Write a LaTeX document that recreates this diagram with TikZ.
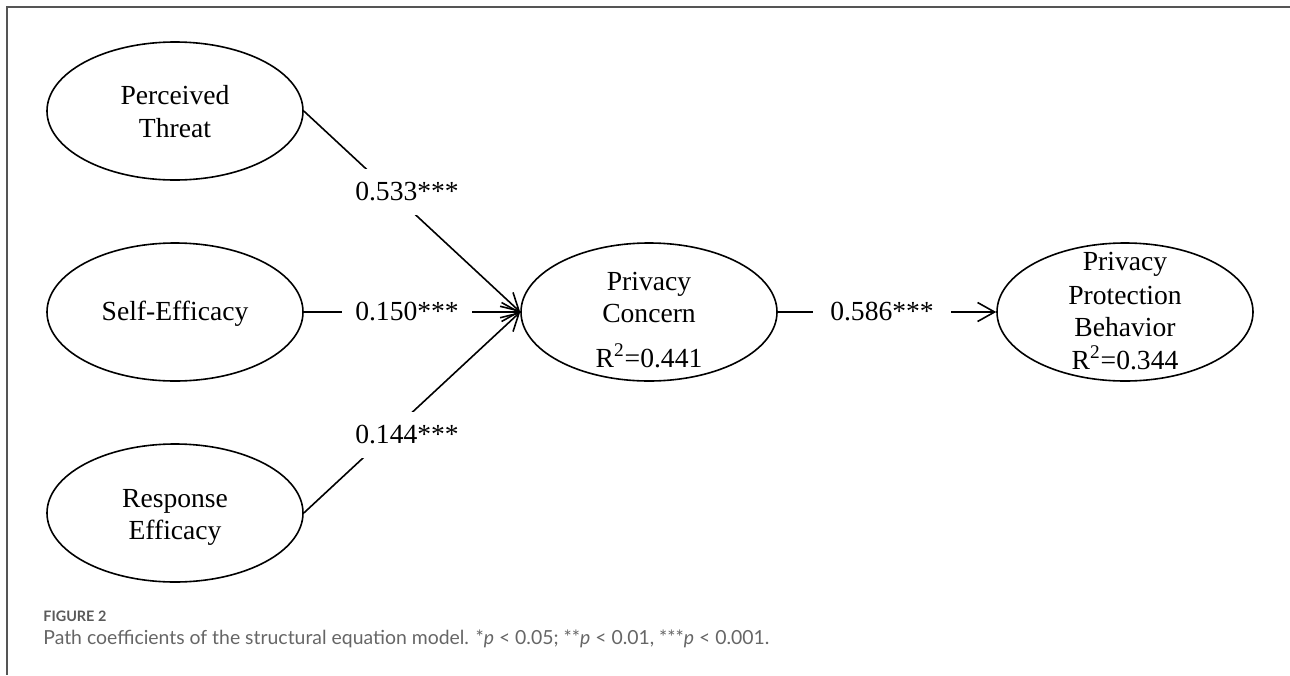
\documentclass[tikz,border=0pt]{standalone}
\usepackage{fontspec}
\setmainfont{Liberation Serif}
\newfontfamily\capfont{Lato}
\usetikzlibrary{arrows.meta,shapes.geometric}
\definecolor{framegrey}{HTML}{555555}
\definecolor{figgrey}{HTML}{5A5A5A}
\definecolor{capgrey}{HTML}{666666}
\begin{document}
\begin{tikzpicture}[x=0.5pt,y=-0.5pt,
 ell/.style={draw,ellipse,line width=0.8pt,minimum width=128pt,minimum height=69pt,inner sep=0pt},
 txt/.style={font=\fontsize{13.8pt}{16.5pt}\selectfont,anchor=base,inner sep=0pt},
 coef/.style={font=\fontsize{13.8pt}{16.5pt}\selectfont,fill=white,inner xsep=6.5pt,inner ysep=6.8pt},
 conn/.style={line width=0.8pt,-{Straight Barb[length=8.5pt,width=9.5pt]}},
 frameline/.style={draw=framegrey,line width=1pt}]
\useasboundingbox (0,0) rectangle (1290,675);
\draw[frameline] (1290,7) -- (7,7) -- (7,675);

% ellipses
\node[ell] (pt) at (175,111) {};
\node[ell] (se) at (175,312) {};
\node[ell] (re) at (175,513) {};
\node[ell] (pc) at (649,312) {};
\node[ell] (ppb) at (1125,312) {};

% texts
\node[txt] (pt1) at (175,104) {Perceived};
\node[txt] (pt2) at (175,137) {Threat};
\node[txt] (se1) at (175,320) {Self-Efficacy};
\node[txt] (re1) at (175,507) {Response};
\node[txt] (re2) at (175,539) {Efficacy};
\node[txt] (pc1) at (649,290) {Privacy};
\node[txt] (pc2) at (649,322) {Concern};
\node[txt] (pc3) at (649,367) {R\textsuperscript{2}=0.441};
\node[txt] (ppb1) at (1125,270) {Privacy};
\node[txt] (ppb2) at (1125,304) {Protection};
\node[txt] (ppb3) at (1125,336) {Behavior};
\node[txt] (ppb4) at (1125,369) {R\textsuperscript{2}=0.344};

% connectors
\draw[conn] (pt.east) -- (pc.west);
\draw[conn] (se.east) -- (pc.west);
\draw[conn] (re.east) -- (pc.west);
\draw[conn] (pc.east) -- (ppb.west);

% coefficients
\node[coef] (l1) at (407,192) {0.533***};
\node[coef] (l2) at (407,312) {0.150***};
\node[coef] (l3) at (407,435) {0.144***};
\node[coef,inner xsep=8.5pt] (l4) at (882,312) {0.586***};

% caption
\node[anchor=base west,inner sep=0pt,text=figgrey,font=\capfont\bfseries\fontsize{7.2pt}{8pt}\selectfont] (fig) at (43,621) {FIGURE 2};
\node[anchor=base west,inner sep=0pt,text=capgrey,font=\capfont\fontsize{9.7pt}{11pt}\selectfont] (cap) at (43,644) {Path coefficients of the structural equation model. *\textit{p} < 0.05; **\textit{p} < 0.01, ***\textit{p} < 0.001.};
\end{tikzpicture}
\end{document}
